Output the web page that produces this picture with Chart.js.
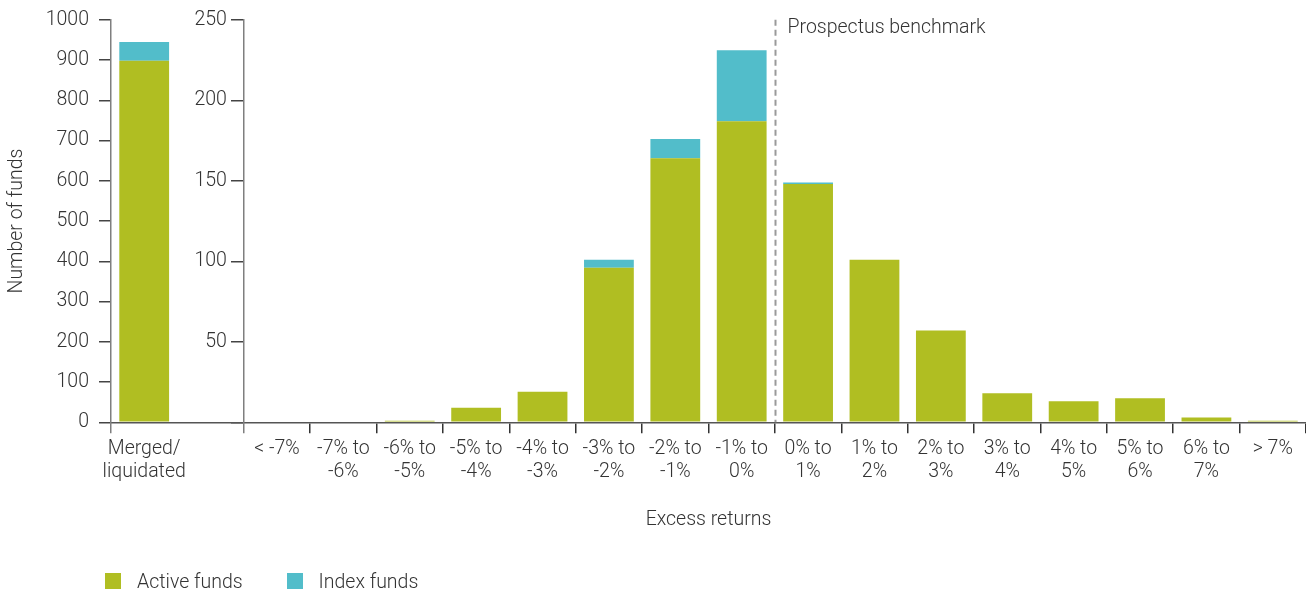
<!DOCTYPE html>
<html><head><meta charset="utf-8">
<script src="https://cdn.jsdelivr.net/npm/chart.js@4/dist/chart.umd.min.js"></script>
<style>
html,body{margin:0;padding:0;background:#fff;}
#wrap{position:relative;width:1306px;height:591px;overflow:hidden;}
#c{position:absolute;left:0;top:0;}
#legend{position:absolute;left:105px;top:570px;height:22px;display:flex;align-items:center;font-family:Roboto,"Liberation Sans",sans-serif;font-weight:300;font-size:19.5px;color:#333;}
#legend .item{display:flex;align-items:center;margin-right:44px;}
#legend .sw{width:16px;height:16px;margin-right:16px;}
</style></head>
<body><div id="wrap"><canvas id="c" width="1306" height="591"></canvas><div id="legend"></div></div>
<script>
// ---- data ----
const categories = [["Merged/","liquidated"], "", "< -7%", ["-7% to","-6%"], ["-6% to","-5%"], ["-5% to","-4%"], ["-4% to","-3%"], ["-3% to","-2%"], ["-2% to","-1%"], ["-1% to","0%"], ["0% to","1%"], ["1% to","2%"], ["2% to","3%"], ["3% to","4%"], ["4% to","5%"], ["5% to","6%"], ["6% to","7%"], "> 7%"];
const mergedActive = [898];
const mergedIndex = [47];
const activeFunds = [0, 0, 1, 9, 19, 96, 164, 187, 148, 101, 57, 18, 13, 15, 3, 1];
const indexFunds  = [0, 0, 0, 0, 0, 5, 12, 44, 1, 0, 0, 0, 0, 0, 0, 0];
const seriesNames = ["Active funds", "Index funds"];
const leftAxisMax = 1000, leftAxisStep = 100;
const rightAxisMax = 250, rightAxisStep = 50;
const benchmarkText = "Prospectus benchmark";
const xTitle = "Excess returns";
const yTitle = "Number of funds";

// ---- styles ----
const GREEN = "#B0BE22";
const TEAL = "#52BDCA";
const TXT = "#333333";
const FONT = {family: "Roboto, 'Liberation Sans', sans-serif", size: 19.5, weight: 300, lineHeight: 1.2};
const YFONT = {family: "Roboto, 'Liberation Sans', sans-serif", size: 19.5, weight: 300, lineHeight: 1.0};

const nMerged = mergedActive.length;
const gap = categories.length - nMerged - activeFunds.length; // spacer categories
const nulls = n => Array(n).fill(null);
const mergedA = [...mergedActive, ...nulls(categories.length - nMerged)];
const mergedI = [...mergedIndex, ...nulls(categories.length - nMerged)];
const mainA = [...nulls(nMerged + gap), ...activeFunds];
const mainI = [...nulls(nMerged + gap), ...indexFunds];

const splitPos = nMerged + gap - 0.5;          // boundary where the right axis sits
const benchIdx = categories.findIndex(c => Array.isArray(c) && c[0] === "0% to") - 0.5;

const benchmarkPlugin = {
  id: "benchmark",
  afterDatasetsDraw(chart) {
    const {ctx, chartArea, scales} = chart;
    const px = Math.round(scales.x.getPixelForValue(benchIdx)) + 0.5;
    ctx.save();
    ctx.strokeStyle = "#9a9a9a";
    ctx.lineWidth = 2;
    ctx.setLineDash([6, 4]);
    ctx.beginPath();
    ctx.moveTo(px, chartArea.top);
    ctx.lineTo(px, chartArea.bottom);
    ctx.stroke();
    ctx.setLineDash([]);
    ctx.fillStyle = TXT;
    ctx.font = "300 19.5px Roboto, 'Liberation Sans', sans-serif";
    ctx.textBaseline = "middle";
    ctx.textAlign = "left";
    ctx.fillText(benchmarkText, px + 12, chartArea.top + 8);
    ctx.restore();
  }
};

const chart = new Chart(document.getElementById("c"), {
  type: "bar",
  data: {
    labels: categories,
    datasets: [
      {label: seriesNames[0], data: mergedA, yAxisID: "y", backgroundColor: GREEN},
      {label: seriesNames[1], data: mergedI, yAxisID: "y", backgroundColor: TEAL},
      {label: seriesNames[0], data: mainA, yAxisID: "y2", backgroundColor: GREEN},
      {label: seriesNames[1], data: mainI, yAxisID: "y2", backgroundColor: TEAL}
    ]
  },
  options: {
    responsive: false,
    animation: false,
    layout: {padding: {top: 4, right: 0, bottom: 59, left: 0}},
    datasets: {bar: {barPercentage: 0.75, categoryPercentage: 1, borderWidth: 0}},
    plugins: {legend: {display: false}, tooltip: {enabled: false}},
    scales: {
      x: {
        stacked: true,
        offset: true,
        grid: {
          offset: true, drawOnChartArea: false, drawTicks: true, tickLength: 11, lineWidth: 1.5,
          color: ctx => ctx.index === 1 ? "rgba(0,0,0,0)" : ((ctx.index === 0 || ctx.index === 2) ? "#7f7f7f" : "#333")
        },
        border: {color: "#555", width: 1.5},
        ticks: {font: FONT, color: TXT, padding: 4, maxRotation: 0, autoSkip: false},
        title: {display: true, text: xTitle, font: FONT, color: TXT, padding: {top: 20.5, bottom: 0}}
      },
      y: {
        position: "left",
        stacked: true,
        min: 0, max: leftAxisMax,
        ticks: {stepSize: leftAxisStep, font: YFONT, color: TXT, padding: 10, callback: v => String(v)},
        grid: {drawOnChartArea: false, drawTicks: true, tickLength: 12, color: "#444", lineWidth: 1.5},
        border: {color: "#7f7f7f", width: 1.5},
        title: {display: true, text: yTitle, font: FONT, color: TXT, padding: {top: 5, bottom: 0}},
        afterFit: s => { s.width = 111; }
      },
      y2: {
        position: {x: splitPos},
        stacked: true,
        min: 0, max: rightAxisMax,
        ticks: {display: false, stepSize: rightAxisStep},
        grid: {drawOnChartArea: false, drawTicks: true, tickLength: 12, color: "#444", lineWidth: 1.5},
        border: {color: "#7f7f7f", width: 1.5}
      },
      y3: {
        position: {x: splitPos - 0.255},
        min: 0, max: rightAxisMax,
        ticks: {stepSize: rightAxisStep, font: YFONT, color: TXT, callback: v => v === 0 ? "" : String(v)},
        grid: {display: false},
        border: {display: false}
      }
    }
  },
  plugins: [benchmarkPlugin]
});

// HTML legend built from series names
const lg = document.getElementById("legend");
[[seriesNames[0], GREEN], [seriesNames[1], TEAL]].forEach(([name, col]) => {
  const it = document.createElement("div"); it.className = "item";
  const sw = document.createElement("div"); sw.className = "sw"; sw.style.background = col;
  const tx = document.createElement("span"); tx.textContent = name;
  it.appendChild(sw); it.appendChild(tx); lg.appendChild(it);
});
</script>
</body></html>
